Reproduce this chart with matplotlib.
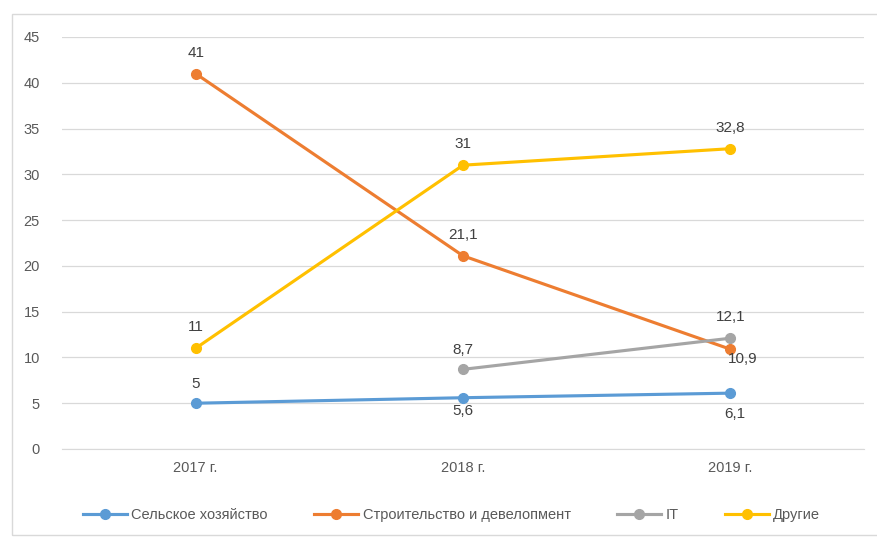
import numpy as np
import matplotlib
matplotlib.use("Agg")
import matplotlib.pyplot as plt
from matplotlib.patches import Rectangle

plt.rcParams['font.family'] = ['Liberation Sans', 'DejaVu Sans']

categories = ["2017 г.", "2018 г.", "2019 г."]
agri = [5, 5.6, 6.1]
constr = [41, 21.1, 10.9]
it = [np.nan, 8.7, 12.1]
other = [11, 31, 32.8]
series_names = ["Сельское хозяйство", "Строительство и девелопмент", "IT", "Другие"]
colors = ["#5B9BD5", "#ED7D31", "#A5A5A5", "#FFC000"]
yticks = [0, 5, 10, 15, 20, 25, 30, 35, 40, 45]

fig = plt.figure(figsize=(8.77, 5.4), dpi=100)
fig.patches.append(Rectangle((12/877, 5/540), 1.2, 1 - 19/540, transform=fig.transFigure,
                             fill=False, edgecolor="#D9D9D9", linewidth=1))
ax = fig.add_axes([62/877, 1 - 449/540, (864-62)/877, (449-37)/540])

x = np.arange(len(categories))
data = [agri, constr, it, other]
for vals, name, c in zip(data, series_names, colors):
    ax.plot(x, vals, color=c, linewidth=2.25, marker='o', markersize=7, label=name, zorder=3)

def fmt(v):
    s = f"{v:g}"
    return s.replace('.', ',')

lab_col = "#404040"
fs = 11
# (series, index, dx pixels, dy pixels)
offsets = {
    (0, 0): (0, 12), (0, 1): (0, -6), (0, 2): (4, -14),
    (1, 0): (0, 14), (1, 1): (0, 14), (1, 2): (12, -3),
    (2, 1): (0, 12), (2, 2): (0, 14),
    (3, 0): (0, 14), (3, 1): (0, 14), (3, 2): (0, 14),
}
for (si, i), (dx, dy) in offsets.items():
    v = data[si][i]
    ax.annotate(fmt(v), (x[i], v), xytext=(dx, dy), textcoords='offset pixels',
                ha='center', va='bottom' if dy > 0 else 'top', color=lab_col, fontsize=fs, zorder=4)

ax.set_xlim(-0.5, 2.5)
ax.set_ylim(0, 45)
ax.set_yticks(yticks)
ax.set_xticks(x)
ax.set_xticklabels(categories)
ax.grid(axis='y', color="#D9D9D9", linewidth=0.9, zorder=0)
ax.set_axisbelow(True)
for s in ['top', 'right', 'left']:
    ax.spines[s].set_visible(False)
ax.spines['bottom'].set_color("#D9D9D9")
ax.tick_params(axis='both', length=0, colors="#595959", labelsize=10.5)
ax.tick_params(axis='y', pad=16)
ax.tick_params(axis='x', pad=9)

ax.legend(loc='center', bbox_to_anchor=(0.515, (540 - 515) / 540), bbox_transform=fig.transFigure,
          ncol=4, frameon=False, fontsize=10.5, labelcolor="#595959", handlelength=3,
          columnspacing=3.2, handletextpad=0.3)

fig.savefig("out.png", dpi=100)
